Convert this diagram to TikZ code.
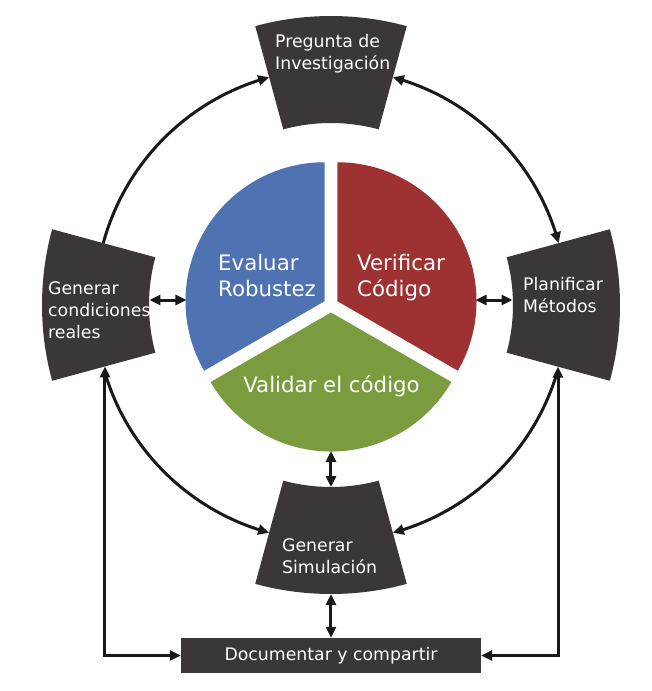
\documentclass[tikz,border=0pt]{standalone}
\usepackage{fontspec}
\setmainfont{DejaVu Sans}
\usetikzlibrary{arrows.meta,bending}
\definecolor{boxc}{HTML}{3B3737}
\definecolor{pieblue}{HTML}{4F73B2}
\definecolor{piered}{HTML}{9E3232}
\definecolor{piegreen}{HTML}{7A9B3E}
\begin{document}
\begin{tikzpicture}[x=1pt,y=1pt,
  >={Triangle[length=11pt,width=10pt]},
  boxshape/.style={fill=boxc},
  boxtext/.style={text=white, align=left, inner sep=0pt, font=\fontsize{17.3}{21.8}\selectfont},
  pietext/.style={text=white, align=left, inner sep=0pt, font=\fontsize{21.3}{25.5}\selectfont},
  conn/.style={line width=3pt, draw=black!90},
]
\fill[white] (-331,-386) rectangle (320,305);
\useasboundingbox (-331,-386) rectangle (320,305);

% pie
\fill[pieblue] (150:7.5) -- ++(90:139) arc[start angle=90,end angle=210,radius=139] -- cycle;
\fill[piered] (30:7.5) -- ++(-30:139) arc[start angle=-30,end angle=90,radius=139] -- cycle;
\fill[piegreen] (270:7.5) -- ++(210:139) arc[start angle=210,end angle=330,radius=139] -- cycle;

% boxes (annular sectors)
\fill[boxshape] (74.8:182) arc[start angle=74.8,end angle=105.2,radius=182] -- (105.2:289) arc[start angle=105.2,end angle=74.8,radius=289] -- cycle;
\fill[boxshape] (164.8:182) arc[start angle=164.8,end angle=195.2,radius=182] -- (195.2:289) arc[start angle=195.2,end angle=164.8,radius=289] -- cycle;
\fill[boxshape] (254.8:182) arc[start angle=254.8,end angle=285.2,radius=182] -- (285.2:289) arc[start angle=285.2,end angle=254.8,radius=289] -- cycle;
\fill[boxshape] (-15.2:182) arc[start angle=-15.2,end angle=15.2,radius=182] -- (15.2:289) arc[start angle=15.2,end angle=-15.2,radius=289] -- cycle;

% texts
\node[pietext, anchor=west] (eval) at (-113,29.5) {Evaluar\\Robustez};
\node[pietext, anchor=west] (verif) at (26,27.5) {Verificar\\Código};
\node[pietext] (valid) at (0.5,-80.8) {Validar el código};

\node[boxtext, anchor=west] (topT) at (-56,251) {Pregunta de\\Investigación};
\node[boxtext, anchor=west] (leftT) at (-283,-5.5) {Generar\\condiciones\\reales};
\node[boxtext, anchor=west] (rightT) at (192,10.2) {Planificar\\Métodos};
\node[boxtext, anchor=west] (botT) at (-49,-251.5) {Generar\\Simulación};

\node[fill=boxc, text=white, minimum width=300pt, minimum height=35pt, inner sep=0pt,
      font=\fontsize{17.3}{20}\selectfont] (doc) at (0,-350.5) {Documentar y compartir};

% arc connectors
\coordinate (lt) at (164.8:236);
\coordinate (tr) at (74.8:236);
\coordinate (rb) at (-17.5:236);
\coordinate (lb) at (197.5:236);
\draw[conn,->] (lt) arc[start angle=164.8,end angle=105.2,radius=236];
\draw[conn,<->] (tr) arc[start angle=74.8,end angle=15.2,radius=236];
\draw[conn,->] (rb) arc[start angle=-17.5,end angle=-74.8,radius=236];
\draw[conn,->] (lb) arc[start angle=197.5,end angle=254.8,radius=236];

% pie <-> boxes
\coordinate (bL) at (-181.5,5);
\coordinate (pL) at (-144.5,5);
\coordinate (bR) at (181.5,5);
\coordinate (pR) at (144.5,5);
\coordinate (pB) at (0,-146);
\coordinate (bB) at (0,-182);
\coordinate (bBo) at (0,-289);
\draw[conn,<->] (bL) -- (pL);
\draw[conn,<->] (bR) -- (pR);
\draw[conn,<->] (pB) -- (bB);
\draw[conn,<->] (bBo) -- (doc.north);

% side verticals
\coordinate (lv) at (-226,-61.4);
\coordinate (rv) at (227,-61.7);
\draw[conn,<->] (lv) |- (doc.west);
\draw[conn,<->] (rv) |- (doc.east);
\end{tikzpicture}
\end{document}
